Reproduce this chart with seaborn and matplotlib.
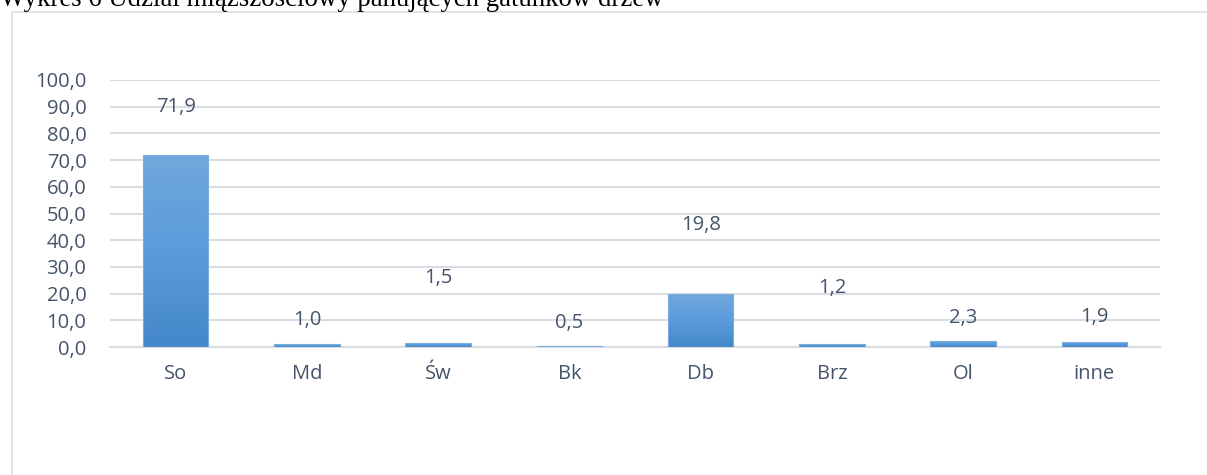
import numpy as np
import pandas as pd
import matplotlib
matplotlib.use("Agg")
import matplotlib.pyplot as plt
from matplotlib.patches import Rectangle
import seaborn as sns

# Share of timber volume by dominant tree species (%)
species = ["So", "Md", "Św", "Bk", "Db", "Brz", "Ol", "inne"]
share = [71.9, 1.0, 1.5, 0.5, 19.8, 1.2, 2.3, 1.9]
y_ticks = [0, 10, 20, 30, 40, 50, 60, 70, 80, 90, 100]

# Vertical placement of the value labels (axis units)
label_y = [89.9, 10.1, 25.8, 9.0, 45.7, 22.1, 10.9, 11.2]

title = "Wykres 6 Udział miąższościowy panujących gatunków drzew"

sns.set_theme(style="white")
plt.rcParams["font.family"] = ["Open Sans", "DejaVu Sans"]

W, H = 1207, 475
fig = plt.figure(figsize=(W / 100, H / 100), dpi=100)
fig.patch.set_facecolor("white")

# Chart frame (runs off the right and bottom edge)
fig.add_artist(Rectangle((12 / W, -0.05), 1.2, 1 - 12 / H + 0.05,
                         transform=fig.transFigure, fill=False,
                         edgecolor="#D9DDE3", linewidth=1.2))

fig.text(0, 1 - 6.5 / H, title, family="Liberation Serif", fontsize=19.3,
         color="black", va="baseline", ha="left")

ax = fig.add_axes([110 / W, (H - 347) / H, (1160 - 110) / W, (347 - 80) / H])
df = pd.DataFrame({"species": species, "share": share})
sns.barplot(data=df, x="species", y="share", color="#5B9BD5", width=0.5,
            ax=ax, zorder=3)

ax.set_xlim(-0.5, len(species) - 0.5)
ax.set_ylim(0, 100)
ax.set_yticks(y_ticks)
ax.set_yticklabels([f"{v:.1f}".replace(".", ",") for v in y_ticks])
ax.set_xlabel("")
ax.set_ylabel("")

text_color = "#44546A"
fs = 14.5
ax.tick_params(axis="y", length=0, pad=17, labelsize=fs, labelcolor=text_color)
ax.tick_params(axis="x", length=0, pad=12, labelsize=fs, labelcolor=text_color)
ax.yaxis.grid(True, color="#D9DDE3", linewidth=1.5, zorder=0)
ax.set_axisbelow(True)
for side in ["top", "right", "left"]:
    ax.spines[side].set_visible(False)
ax.spines["bottom"].set_color("#D9DDE3")
ax.spines["bottom"].set_linewidth(1.5)
ax.patch.set_alpha(0)

# Vertical gradient fill on every bar
grad = np.linspace(0, 1, 256).reshape(-1, 1)
cmap = matplotlib.colors.LinearSegmentedColormap.from_list(
    "bar", ["#4487C8", "#5A9CDB", "#71A7DC"])
for patch in ax.patches:
    x0, y0 = patch.get_x(), patch.get_y()
    w, h = patch.get_width(), patch.get_height()
    im = ax.imshow(grad, extent=[x0, x0 + w, y0, y0 + h], origin="lower",
                   aspect="auto", cmap=cmap, zorder=4)
    im.set_clip_path(patch)
    patch.set_edgecolor("#7AAEE0")
    patch.set_linewidth(0.8)
    patch.set_zorder(5)
    patch.set_facecolor("none")

for i, (v, ly) in enumerate(zip(share, label_y)):
    ax.text(i, ly, f"{v:.1f}".replace(".", ","), ha="center", va="center",
            fontsize=fs, color=text_color, zorder=6)

ax.set_xlim(-0.5, len(species) - 0.5)
ax.set_ylim(0, 100)

fig.savefig("out.png", dpi=100, facecolor="white")
